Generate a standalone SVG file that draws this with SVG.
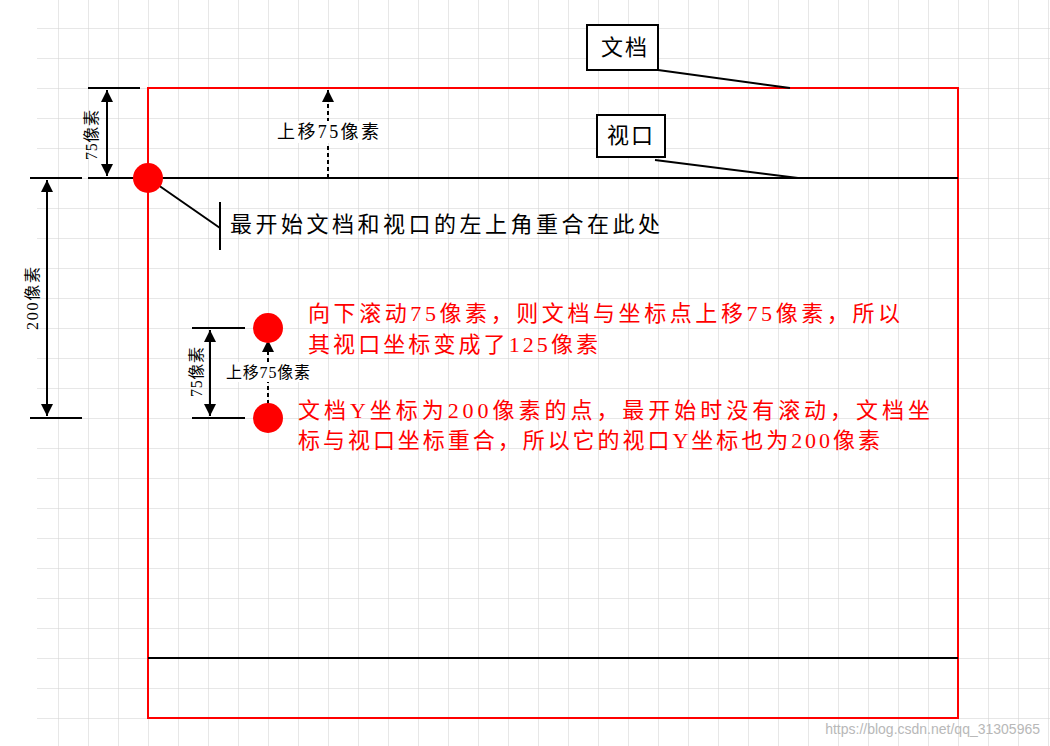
<svg xmlns="http://www.w3.org/2000/svg" width="1050" height="746" viewBox="0 0 1050 746">
<defs>
<pattern id="grid" x="28" y="28" width="30" height="30" patternUnits="userSpaceOnUse"><path d="M0 0H30M0 0V30" fill="none" stroke="#cfcfcf" stroke-width="1"/></pattern>
<marker id="ab" viewBox="0 0 10 10" refX="10" refY="5" markerWidth="12" markerHeight="12" markerUnits="userSpaceOnUse" orient="auto-start-reverse"><path d="M0 0L10 5L0 10z" fill="#000"/></marker>
</defs>
<style>
text{font-family:"Liberation Serif","Noto Sans CJK SC",serif;fill:#000}
.red{fill:#f00;font-size:22px}
.blk{stroke:#000;stroke-width:2;fill:none}
.dot{stroke:#000;stroke-width:2;stroke-dasharray:4 3;fill:none}
</style>
<rect width="1050" height="746" fill="#fff"/>
<rect x="37" y="0" width="1013" height="746" fill="url(#grid)"/>
<rect x="148" y="88" width="810" height="630" fill="none" stroke="#f00" stroke-width="2"/>
<g id="connectors">
<path class="blk" d="M30 178H82M88 178H958M148 658H958"/>
<path class="blk" d="M88 88H140M30 418H82M192 328H245M192 418H245"/>
<path class="blk" d="M107 90V176" marker-start="url(#ab)" marker-end="url(#ab)"/>
<path class="blk" d="M47 180V416" marker-start="url(#ab)" marker-end="url(#ab)"/>
<path class="blk" d="M210 330V416" marker-start="url(#ab)" marker-end="url(#ab)"/>
<path class="dot" d="M328 178V90" marker-end="url(#ab)"/>
<path class="dot" d="M268 418V340" marker-end="url(#ab)"/>
<path class="blk" d="M148 178L220 228M220 202V250"/>
<path class="blk" d="M658 70L790 88M655 160L798 178"/>
</g>
<g id="dot1"><circle cx="148" cy="178" r="15" fill="#f00"/></g>
<g id="dot2"><circle cx="268" cy="328" r="15" fill="#f00"/></g>
<g id="dot3"><circle cx="268" cy="418" r="15" fill="#f00"/></g>
<g id="doc"><rect x="587" y="25" width="71" height="45" fill="#fff" stroke="#000" stroke-width="2"/><text x="601" y="55" font-size="22" textLength="46" lengthAdjust="spacing">文档</text></g>
<g id="vp"><rect x="597" y="115" width="68" height="42" fill="#fff" stroke="#000" stroke-width="2"/><text x="607" y="143" font-size="22" textLength="46" lengthAdjust="spacing">视口</text></g>
<g id="labels">
<rect x="276" y="121" width="104" height="22" fill="#fff"/>
<text x="277" y="138" font-size="18" textLength="102" lengthAdjust="spacing">上移75像素</text>
<rect x="224" y="362" width="88" height="20" fill="#fff"/>
<text x="226" y="378" font-size="16" textLength="84" lengthAdjust="spacing">上移75像素</text>
<text transform="translate(97 160) rotate(-90)" font-size="16" textLength="50" lengthAdjust="spacing">75像素</text>
<text transform="translate(38 330) rotate(-90)" font-size="16" textLength="63" lengthAdjust="spacing">200像素</text>
<text transform="translate(202 397) rotate(-90)" font-size="16" textLength="50" lengthAdjust="spacing">75像素</text>
<text x="230" y="232" font-size="22" textLength="430" lengthAdjust="spacing">最开始文档和视口的左上角重合在此处</text>
<text class="red" x="308" y="321" textLength="592" lengthAdjust="spacing">向下滚动75像素，则文档与坐标点上移75像素，所以</text>
<text class="red" x="308" y="352" textLength="290" lengthAdjust="spacing">其视口坐标变成了125像素</text>
<text class="red" x="298" y="418" textLength="632" lengthAdjust="spacing">文档Y坐标为200像素的点，最开始时没有滚动，文档坐</text>
<text class="red" x="298" y="448" textLength="582" lengthAdjust="spacing">标与视口坐标重合，所以它的视口Y坐标也为200像素</text>
<text x="1040" y="734" font-size="14" text-anchor="end" style="fill:#b8b8b8;font-family:'Liberation Sans',sans-serif">https://blog.csdn.net/qq_31305965</text>
</g>
</svg>
